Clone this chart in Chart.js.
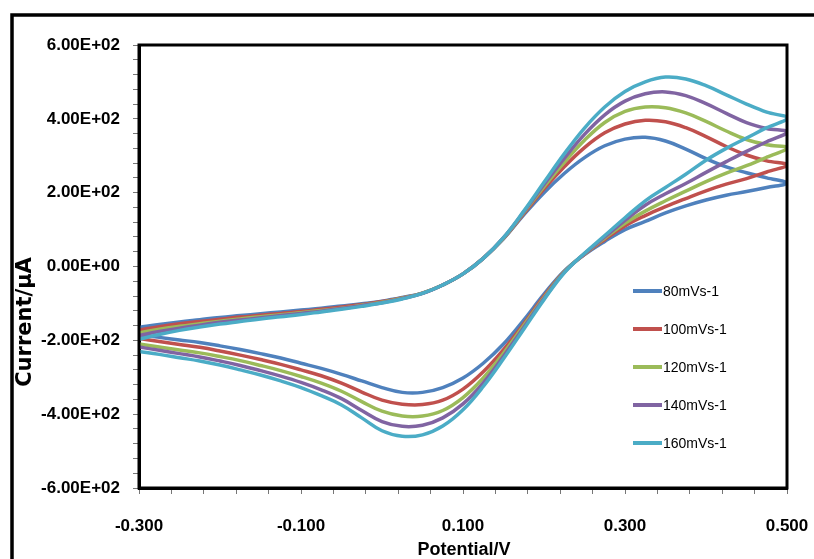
<!DOCTYPE html>
<html>
<head>
<meta charset="utf-8">
<title>Cyclic voltammograms</title>
<script src="https://cdn.jsdelivr.net/npm/chart.js@4.4.1/dist/chart.umd.min.js"></script>
<style>
  body { margin: 0; background: #fff; }
  #wrap { width: 814px; height: 559px; }
</style>
</head>
<body>
<div id="wrap"><canvas id="cvChart" width="814" height="559"></canvas></div>
<script>
// scan rates (legend)
const scanRates = ['80mVs-1', '100mVs-1', '120mVs-1', '140mVs-1', '160mVs-1'];

// potential sweep, V: forward -0.3 -> 0.5, then back to -0.3
const potential = [
  -0.300, -0.275, -0.250, -0.225, -0.200, -0.175, -0.150, -0.125, -0.100, -0.075, -0.050,
  -0.025, 0.000, 0.025, 0.050, 0.075, 0.100, 0.125, 0.150, 0.175, 0.200, 0.225,
  0.250, 0.275, 0.300, 0.325, 0.350, 0.375, 0.400, 0.425, 0.450, 0.475, 0.500,
  0.475, 0.450, 0.425, 0.400, 0.375, 0.350, 0.325, 0.300, 0.275, 0.250, 0.225,
  0.200, 0.175, 0.150, 0.125, 0.100, 0.075, 0.050, 0.025, 0.000, -0.025, -0.050,
  -0.075, -0.100, -0.125, -0.150, -0.175, -0.200, -0.225, -0.250, -0.275, -0.300
];

// current, uA
const current80 = [
  -165, -157, -150, -144, -138, -133, -128, -123, -118, -113, -107,
  -101, -94, -84, -72, -50, -20, 22, 75, 140, 200, 252,
  295, 327, 345, 350, 340, 318, 292, 270, 254, 240, 226,
  214, 203, 193, 180, 164, 145, 122, 100, 68, 32, -12,
  -75, -145, -210, -262, -302, -328, -341, -341, -328, -310, -292,
  -276, -262, -248, -236, -225, -215, -206, -199, -192, -185
];
const current100 = [
  -172, -163, -155, -149, -143, -137, -132, -127, -122, -116, -110,
  -103, -95, -85, -72, -50, -20, 22, 76, 143, 210, 270,
  322, 362, 386, 396, 392, 376, 352, 325, 302, 286, 275,
  256, 238, 223, 205, 184, 162, 138, 110, 73, 33, -14,
  -80, -155, -225, -285, -332, -362, -374, -373, -362, -340, -316,
  -296, -280, -265, -252, -240, -229, -219, -211, -203, -195
];
const current120 = [
  -180, -170, -162, -155, -148, -142, -136, -131, -125, -119, -113,
  -105, -97, -86, -72, -50, -20, 22, 77, 146, 216, 282,
  342, 390, 420, 432, 430, 416, 393, 367, 344, 330, 321,
  296, 273, 253, 230, 204, 178, 150, 117, 77, 34, -15,
  -84, -160, -235, -302, -355, -390, -405, -405, -392, -366, -338,
  -316, -298, -282, -268, -255, -244, -234, -226, -218, -210
];
const current140 = [
  -187, -176, -167, -159, -151, -145, -139, -133, -127, -121, -114,
  -106, -98, -87, -73, -50, -20, 22, 78, 148, 222, 293,
  358, 411, 448, 468, 473, 463, 441, 415, 390, 374, 364,
  338, 312, 284, 255, 225, 197, 166, 125, 80, 35, -16,
  -87, -165, -243, -315, -372, -410, -430, -433, -420, -390, -358,
  -334, -314, -297, -282, -268, -256, -245, -236, -227, -218
];
const current160 = [
  -197, -184, -173, -164, -156, -149, -142, -136, -130, -123, -116,
  -108, -99, -88, -73, -50, -20, 22, 78, 150, 228, 305,
  375, 432, 474, 500, 513, 508, 490, 465, 440, 418, 402,
  376, 348, 320, 288, 250, 214, 178, 132, 84, 36, -17,
  -90, -170, -250, -325, -388, -432, -456, -460, -445, -410, -375,
  -350, -328, -310, -294, -280, -267, -256, -247, -238, -230
];

// axis ticks
const xTickLabels = [-0.3, -0.1, 0.1, 0.3, 0.5];
const yTickLabels = [-600, -400, -200, 0, 200, 400, 600];

const allCurrents = [current80, current100, current120, current140, current160];
const lineColors = ['#4f81bd', '#c0504d', '#9bbb59', '#8064a2', '#4bacc6'];
const FONT = "'Liberation Sans', Arial, sans-serif";

function sci(v) {
  if (v === 0) return '0.00E+00';
  const exp = Math.floor(Math.log10(Math.abs(v)));
  const mant = v / Math.pow(10, exp);
  return mant.toFixed(2) + 'E' + (exp < 0 ? '-' : '+') + String(Math.abs(exp)).padStart(2, '0');
}

function isMajor(v, list) {
  return list.some(t => Math.abs(t - v) < 1e-6);
}

// minor tick positions between first and last major label
function tickRange(list, step) {
  const out = [];
  const n = Math.round((list[list.length - 1] - list[0]) / step);
  for (let i = 0; i <= n; i++) out.push(+(list[0] + i * step).toFixed(6));
  return out;
}

const datasets = allCurrents.map((cur, i) => ({
  label: scanRates[i],
  data: potential.map((x, j) => ({ x: x, y: cur[j] })),
  borderColor: lineColors[i],
  backgroundColor: lineColors[i],
  borderWidth: 3.5,
  pointRadius: 0,
  tension: 0.4,
  showLine: true,
  fill: false,
  order: allCurrents.length - 1 - i
}));

const decor = {
  id: 'decor',
  beforeDraw(chart) {
    const ctx = chart.ctx;
    ctx.save();
    ctx.fillStyle = '#fff';
    ctx.fillRect(0, 0, chart.width, chart.height);
    // outer frame (left and top only visible)
    ctx.strokeStyle = '#000';
    ctx.lineWidth = 3.5;
    ctx.beginPath();
    ctx.moveTo(12, chart.height + 5);
    ctx.lineTo(12, 15);
    ctx.lineTo(chart.width + 5, 15);
    ctx.stroke();
    ctx.restore();
  },
  afterDraw(chart) {
    const ctx = chart.ctx;
    const a = chart.chartArea;
    ctx.save();
    ctx.strokeStyle = '#000';
    ctx.lineWidth = 3;
    ctx.strokeRect(a.left, a.top, a.right - a.left, a.bottom - a.top);

    // legend inside the plot
    ctx.font = '14px ' + FONT;
    ctx.textBaseline = 'middle';
    ctx.textAlign = 'left';
    chart.data.datasets.forEach((ds, i) => {
      const y = 291 + i * 38;
      ctx.strokeStyle = ds.borderColor;
      ctx.lineWidth = 4;
      ctx.beginPath();
      ctx.moveTo(633, y);
      ctx.lineTo(662, y);
      ctx.stroke();
      ctx.fillStyle = '#000';
      ctx.fillText(ds.label, 663, y + 1);
    });

    // axis titles
    ctx.fillStyle = '#000';
    ctx.textAlign = 'center';
    ctx.font = 'bold 18px ' + FONT;
    ctx.fillText('Potential/V', 464, 550);
    ctx.font = "bold 21px 'DejaVu Sans', sans-serif";
    ctx.translate(26, 322);
    ctx.rotate(-Math.PI / 2);
    ctx.fillText('Current/\u00b5A', 0, 0);
    ctx.restore();
  }
};

new Chart(document.getElementById('cvChart'), {
  type: 'scatter',
  data: { datasets: datasets },
  options: {
    responsive: false,
    animation: false,
    devicePixelRatio: 1,
    layout: { padding: { left: 0, top: 45, right: 27, bottom: 0 } },
    plugins: {
      legend: { display: false },
      tooltip: { enabled: false }
    },
    scales: {
      x: {
        type: 'linear',
        min: -0.3,
        max: 0.5,
        afterFit(scale) {
          scale.height = 71;
          scale.paddingLeft = 0;
          scale.paddingRight = 0;
        },
        afterBuildTicks(scale) {
          scale.ticks = tickRange(xTickLabels, 0.04).map(v => ({ value: v }));
        },
        grid: { drawOnChartArea: false, drawTicks: true, tickLength: 6, color: '#777', lineWidth: 1 },
        border: { display: true, color: '#000', width: 3 },
        ticks: {
          autoSkip: false,
          maxRotation: 0,
          padding: 22,
          color: '#000',
          font: { family: FONT, size: 17, weight: 'bold' },
          callback: v => isMajor(v, xTickLabels) ? v.toFixed(3) : ''
        }
      },
      y: {
        type: 'linear',
        min: -600,
        max: 600,
        afterFit(scale) {
          scale.width = 139;
          scale.paddingTop = 0;
          scale.paddingBottom = 0;
        },
        afterBuildTicks(scale) {
          scale.ticks = tickRange(yTickLabels, 40).map(v => ({ value: v }));
        },
        grid: { drawOnChartArea: false, drawTicks: true, tickLength: 6, color: '#777', lineWidth: 1 },
        border: { display: true, color: '#000', width: 3 },
        ticks: {
          autoSkip: false,
          padding: 13,
          color: '#000',
          font: { family: FONT, size: 17, weight: 'bold' },
          callback: v => isMajor(v, yTickLabels) ? sci(v) : ''
        }
      }
    }
  },
  plugins: [decor]
});
</script>
</body>
</html>
